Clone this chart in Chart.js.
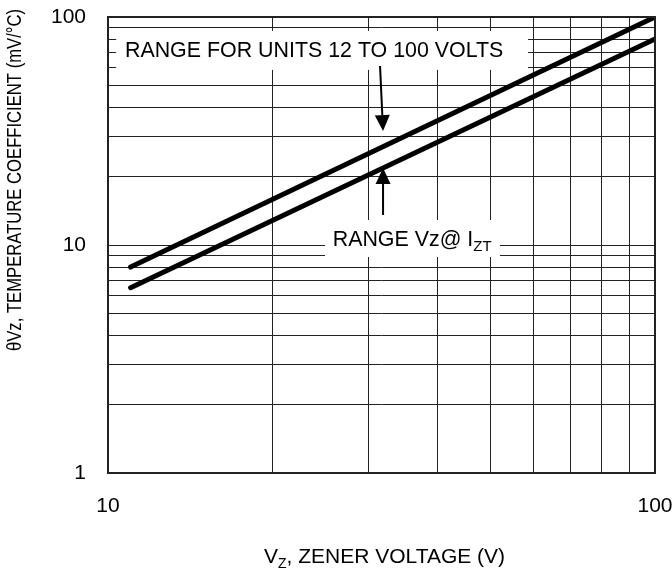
<!DOCTYPE html>
<html>
<head>
<meta charset="utf-8">
<script src="https://cdn.jsdelivr.net/npm/chart.js@4.4.1/dist/chart.umd.min.js"></script>
<style>
  html, body { margin: 0; padding: 0; background: #fff; }
  canvas { display: block; }
</style>
</head>
<body>
<canvas id="myChart" width="672" height="571"></canvas>
<script>
// ends of the two straight lines (log-log), Vz in volts
const zenerVoltage = [11, 100];
// temperature coefficient in mV/°C, top and bottom of the range
const upperCoef = [8, 100];
const lowerCoef = [6.5, 80];
// ticks that carry a label
const xTickLabels = [10, 100];
const yTickLabels = [1, 10, 100];

const FONT = "'Liberation Sans', Arial, sans-serif";

// notes on the plot, in data units: white box, text start, arrow
const notes = [
    {
        box: [10.35, 58.6, 86.9, 58.6],
        at: [10.74, 66.8],
        parts: [['RANGE FOR UNITS 12 TO 100 VOLTS', false]],
        arrow: [31.43, 60.96, 31.83, 31.6]
    },
    {
        box: [24.93, 52.08, 12.87, 8.86],
        at: [25.75, 9.9],
        parts: [['RANGE Vz@ I', false], ['ZT', true]],
        arrow: [31.83, 13.54, 31.83, 21.76]
    }
];

function isLabelled(list, v) {
    return list.some(t => Math.abs(t - v) < 1e-6);
}

// keep only 1..9 x 10^n, like printed log paper
function keepDecadeTicks(scale) {
    scale.ticks = scale.ticks.filter(t => {
        const m = t.value / Math.pow(10, Math.floor(Math.log10(t.value) + 1e-9));
        return Math.abs(m - Math.round(m)) < 1e-6;
    });
}

function drawArrow(ctx, x0, y0, x1, y1) {
    const headLen = 16, headW = 15;
    const ang = Math.atan2(y1 - y0, x1 - x0);
    const bx = x1 - headLen * Math.cos(ang);
    const by = y1 - headLen * Math.sin(ang);
    ctx.beginPath();
    ctx.moveTo(x0, y0);
    ctx.lineTo(bx, by);
    ctx.stroke();
    ctx.beginPath();
    ctx.moveTo(x1, y1);
    ctx.lineTo(bx + headW / 2 * Math.sin(ang), by - headW / 2 * Math.cos(ang));
    ctx.lineTo(bx - headW / 2 * Math.sin(ang), by + headW / 2 * Math.cos(ang));
    ctx.closePath();
    ctx.fill();
}

// text with optional subscript parts
function drawParts(ctx, parts, x, y, size) {
    parts.forEach(([txt, sub]) => {
        ctx.font = (sub ? Math.round(size * 0.68) : size) + 'px ' + FONT;
        ctx.fillText(txt, x, sub ? y + 5 : y);
        x += ctx.measureText(txt).width;
    });
    return x;
}

const decorPlugin = {
    id: 'decor',
    beforeDatasetsDraw(chart) {
        // white boxes hide the grid behind the notes
        const { ctx, scales: { x, y } } = chart;
        ctx.save();
        ctx.fillStyle = '#fff';
        notes.forEach(n => {
            const x0 = x.getPixelForValue(n.box[0]), x1 = x.getPixelForValue(n.box[1]);
            const y0 = y.getPixelForValue(n.box[2]), y1 = y.getPixelForValue(n.box[3]);
            ctx.fillRect(x0, y0, x1 - x0, y1 - y0);
        });
        ctx.restore();
    },
    afterDatasetsDraw(chart) {
        const { ctx, scales: { x, y } } = chart;
        ctx.save();
        ctx.fillStyle = '#000';
        ctx.strokeStyle = '#000';
        ctx.lineWidth = 2;
        ctx.textBaseline = 'alphabetic';
        notes.forEach(n => {
            const a = n.arrow;
            drawArrow(ctx, x.getPixelForValue(a[0]), y.getPixelForValue(a[1]),
                x.getPixelForValue(a[2]), y.getPixelForValue(a[3]));
            drawParts(ctx, n.parts, x.getPixelForValue(n.at[0]), y.getPixelForValue(n.at[1]), 21.4);
        });
        ctx.restore();
    },
    afterDraw(chart) {
        const { ctx, chartArea: ca } = chart;
        ctx.save();
        // frame
        ctx.strokeStyle = '#222';
        ctx.lineWidth = 2;
        ctx.strokeRect(ca.left, ca.top, ca.right - ca.left, ca.bottom - ca.top);

        // axis titles
        ctx.fillStyle = '#000';
        ctx.textBaseline = 'alphabetic';
        const xParts = [['V', false], ['Z', true], [', ZENER VOLTAGE (V)', false]];
        let w = 0;
        xParts.forEach(([t, s]) => {
            ctx.font = (s ? 14 : 21) + 'px ' + FONT;
            w += ctx.measureText(t).width;
        });
        drawParts(ctx, xParts, (ca.left + ca.right) / 2 + 3 - w / 2, 563, 21);

        // y title is printed condensed in the original
        const yTitle = 'θVz, TEMPERATURE COEFFICIENT (mV/°C)';
        ctx.font = '21px ' + FONT;
        const squeeze = 342 / ctx.measureText(yTitle).width;
        ctx.translate(21, 180);
        ctx.rotate(-Math.PI / 2);
        ctx.scale(squeeze, 1);
        ctx.textAlign = 'center';
        ctx.fillText(yTitle, 0, 0);
        ctx.restore();
    }
};

const ctx = document.getElementById('myChart').getContext('2d');

const lineStyle = {
    borderColor: '#000',
    borderWidth: 5,
    borderCapStyle: 'round',
    pointRadius: 0,
    fill: false,
    tension: 0
};

const myChart = new Chart(ctx, {
    type: 'line',
    data: {
        datasets: [
            Object.assign({
                label: 'upper',
                data: zenerVoltage.map((v, i) => ({ x: v, y: upperCoef[i] }))
            }, lineStyle),
            Object.assign({
                label: 'lower',
                data: zenerVoltage.map((v, i) => ({ x: v, y: lowerCoef[i] }))
            }, lineStyle)
        ]
    },
    options: {
        responsive: false,
        animation: false,
        layout: { padding: { top: 17, right: 17, left: 0, bottom: 0 } },
        plugins: {
            legend: { display: false },
            tooltip: { enabled: false }
        },
        scales: {
            x: {
                type: 'logarithmic',
                min: 10,
                max: 100,
                afterBuildTicks: keepDecadeTicks,
                afterFit: s => {
                    s.height = 98;
                    s.paddingLeft = 0;
                    s.paddingRight = 0;
                },
                grid: { color: '#222', lineWidth: 1, drawTicks: false },
                border: { display: false },
                ticks: {
                    autoSkip: false,
                    maxRotation: 0,
                    padding: 21,
                    color: '#000',
                    font: { family: FONT, size: 21 },
                    callback: v => isLabelled(xTickLabels, v) ? String(v) : ''
                }
            },
            y: {
                type: 'logarithmic',
                min: 1,
                max: 100,
                afterBuildTicks: keepDecadeTicks,
                afterFit: s => {
                    s.width = 108;
                    s.paddingTop = 0;
                    s.paddingBottom = 0;
                },
                grid: { color: '#222', lineWidth: 1, drawTicks: false },
                border: { display: false },
                ticks: {
                    autoSkip: false,
                    padding: 22,
                    color: '#000',
                    font: { family: FONT, size: 21 },
                    callback: v => isLabelled(yTickLabels, v) ? String(v) : ''
                }
            }
        }
    },
    plugins: [decorPlugin]
});
</script>
</body>
</html>
